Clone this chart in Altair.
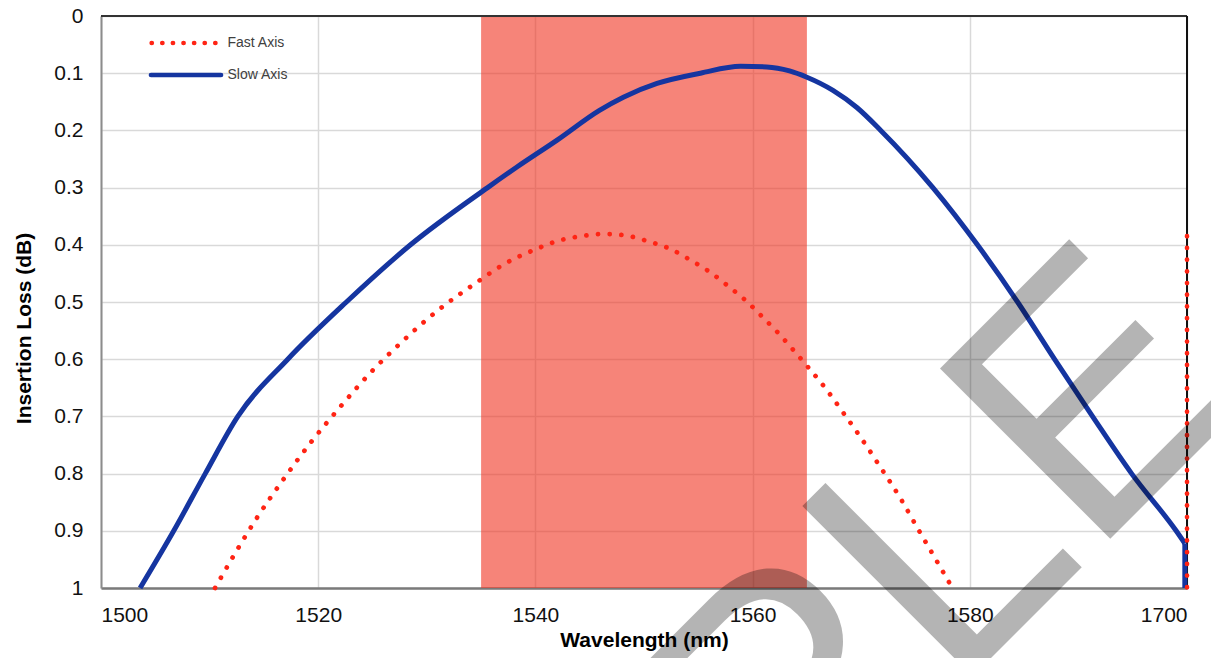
import altair as alt
import pandas as pd

# ---------------- data ----------------
x_tick_values = [1500, 1520, 1540, 1560, 1580, 1600]
x_tick_labels = ["1500", "1520", "1540", "1560", "1580", "1700"]
y_tick_values = [0, 0.1, 0.2, 0.3, 0.4, 0.5, 0.6, 0.7, 0.8, 0.9, 1]
y_tick_labels = ["0", "0.1", "0.2", "0.3", "0.4", "0.5", "0.6", "0.7", "0.8", "0.9", "1"]

fast_wl = [1510.5, 1512.2, 1514.4, 1516.8, 1519.3, 1522.0, 1524.8, 1527.8, 1531.0, 1534.5,
           1537.1, 1540.0, 1542.1, 1544.2, 1546.3, 1548.4, 1550.4, 1552.4, 1554.3, 1556.1,
           1557.8, 1559.4, 1560.9, 1562.4, 1563.8, 1565.2, 1566.8, 1568.4, 1570.0, 1571.4,
           1573.7, 1575.3, 1576.9, 1578.4]
fast_il = [1.0, 0.944, 0.876, 0.81, 0.746, 0.684, 0.624, 0.568, 0.515, 0.467,
           0.434, 0.408, 0.393, 0.385, 0.381, 0.384, 0.394, 0.407, 0.427, 0.448,
           0.473, 0.498, 0.526, 0.555, 0.585, 0.616, 0.653, 0.695, 0.738, 0.778,
           0.846, 0.899, 0.951, 1.0]
fast_edge_wl = [1600, 1600]
fast_edge_il = [0.385, 1.0]

slow_wl = [1503.6, 1506.7, 1509.6, 1512.6, 1517.2, 1522.6, 1528.5, 1535.6, 1538.3, 1542.0,
           1545.9, 1548.1, 1551.2, 1555.2, 1558.9, 1561.3, 1563.4, 1565.0, 1567.4, 1569.6,
           1571.8, 1576.6, 1580.7, 1584.4, 1587.8, 1591.3, 1594.9, 1599.0, 1599.8]
slow_il = [1.0, 0.9, 0.8, 0.7, 0.6, 0.5, 0.4, 0.3, 0.264, 0.217,
           0.165, 0.142, 0.118, 0.1, 0.088, 0.089, 0.096, 0.107, 0.13, 0.16,
           0.2, 0.3, 0.4, 0.5, 0.6, 0.7, 0.8, 0.9, 0.922]
slow_edge_wl = [1599.8, 1599.8]
slow_edge_il = [0.922, 1.0]

band_start = [1535]
band_end = [1565]

legend_labels = ["Fast Axis", "Slow Axis"]
watermark_text = ["SAMPLE"]

x_title = "Wavelength (nm)"
y_title = "Insertion Loss (dB)"

# ---------------- layout / style ----------------
W, H = 1086, 572
FONT = "Liberation Sans"
RED = "#ff2414"
BLUE = "#1535a0"


def label_expr(values, labels):
    vals = ",".join(repr(v) for v in values)
    labs = ",".join("'" + s + "'" for s in labels)
    return "[" + labs + "][indexof([" + vals + "], datum.value)]"


xscale = alt.Scale(domain=[1500, 1600], nice=False, zero=False)
yscale = alt.Scale(domain=[0, 1], reverse=True, nice=False, zero=False)

x_axis = alt.Axis(
    values=x_tick_values, labelExpr=label_expr(x_tick_values, x_tick_labels),
    title=x_title, grid=True, ticks=False, tickSize=0, labelPadding=16,
    labelFontSize=21, labelFont=FONT, labelColor="#111111",
    titleFontSize=21, titleFont=FONT, titleFontWeight="bold", titleColor="#000000",
    titleY=58, titleBaseline="alphabetic",
    domainColor="#7a7a7a", domainWidth=2.5,
    gridColor="#d9d9d9", gridWidth=1.5,
)
y_axis = alt.Axis(
    values=y_tick_values, labelExpr=label_expr(y_tick_values, y_tick_labels),
    title=y_title, grid=True, ticks=False, tickSize=0, labelPadding=18,
    labelFontSize=21, labelFont=FONT, labelColor="#111111",
    titleFontSize=21, titleFont=FONT, titleFontWeight="bold", titleColor="#000000",
    titleAngle=270, titleX=-71, titleY=312, titleBaseline="alphabetic", titleAlign="center",
    domainColor="#8c8c8c", domainWidth=2,
    gridColor="#d9d9d9", gridWidth=1.5,
)

band_df = pd.DataFrame({"start": band_start, "end": band_end})
slow_df = pd.concat([
    pd.DataFrame({"wl": slow_wl, "il": slow_il, "seg": "main", "i": list(range(len(slow_wl)))}),
    pd.DataFrame({"wl": slow_edge_wl, "il": slow_edge_il, "seg": "edge",
                  "i": list(range(len(slow_edge_wl)))}),
])
fast_df = pd.concat([
    pd.DataFrame({"wl": fast_wl, "il": fast_il, "seg": "main", "i": list(range(len(fast_wl)))}),
    pd.DataFrame({"wl": fast_edge_wl, "il": fast_edge_il, "seg": "edge",
                  "i": list(range(len(fast_edge_wl)))}),
])

band = alt.Chart(band_df).mark_rect(color="#f0321f", opacity=0.6).encode(
    x=alt.X("start:Q", scale=xscale, axis=x_axis),
    x2="end:Q",
)

slow = alt.Chart(slow_df).mark_line(
    color=BLUE, strokeWidth=5, strokeJoin="round", interpolate="monotone"
).encode(
    x=alt.X("wl:Q", scale=xscale, axis=x_axis),
    y=alt.Y("il:Q", scale=yscale, axis=y_axis),
    detail="seg:N",
    order="i:Q",
)

fast = alt.Chart(fast_df).mark_line(
    color=RED, strokeWidth=4.7, strokeDash=[0.1, 11.6], strokeCap="round", interpolate="monotone"
).encode(
    x=alt.X("wl:Q", scale=xscale, axis=x_axis),
    y=alt.Y("il:Q", scale=yscale, axis=y_axis),
    detail="seg:N",
    order="i:Q",
)

dummy = pd.DataFrame({"k": [0]})
top_border = alt.Chart(dummy).mark_rule(color="#333333", strokeWidth=2).encode(
    x=alt.value(0), x2=alt.value(W), y=alt.value(0)
)
right_border = alt.Chart(dummy).mark_rule(color="#111111", strokeWidth=2).encode(
    x=alt.value(W), y=alt.value(0), y2=alt.value(H)
)

leg_fast_line = alt.Chart(dummy).mark_rule(
    color=RED, strokeWidth=4.7, strokeDash=[0.1, 10.5], strokeCap="round"
).encode(x=alt.value(50.7), x2=alt.value(114.5), y=alt.value(27))
leg_slow_line = alt.Chart(dummy).mark_rule(color=BLUE, strokeWidth=4.7, strokeCap="round").encode(
    x=alt.value(50), x2=alt.value(120), y=alt.value(59)
)
leg_fast_text = alt.Chart(pd.DataFrame({"label": [legend_labels[0]]})).mark_text(
    align="left", baseline="middle", font=FONT, fontSize=14, color="#404040"
).encode(text="label:N", x=alt.value(126.5), y=alt.value(27))
leg_slow_text = alt.Chart(pd.DataFrame({"label": [legend_labels[1]]})).mark_text(
    align="left", baseline="middle", font=FONT, fontSize=14, color="#404040"
).encode(text="label:N", x=alt.value(126.5), y=alt.value(59))

watermark = alt.Chart(pd.DataFrame({"t": watermark_text})).mark_text(
    angle=315, font=FONT, fontSize=350, color="#000000", opacity=0.29,
    align="center", baseline="alphabetic"
).encode(text="t:N", x=alt.value(652), y=alt.value(880))

chart = alt.layer(
    band, top_border, right_border, slow, fast,
    leg_fast_line, leg_slow_line, leg_fast_text, leg_slow_text,
    watermark,
).properties(
    width=W, height=H,
    autosize=alt.AutoSizeParams(type="none"),
    padding={"left": 93, "top": 8, "right": 24, "bottom": 70},
).configure_view(stroke=None)

chart.save("out.html", embed_options={"renderer": "svg", "actions": False})
